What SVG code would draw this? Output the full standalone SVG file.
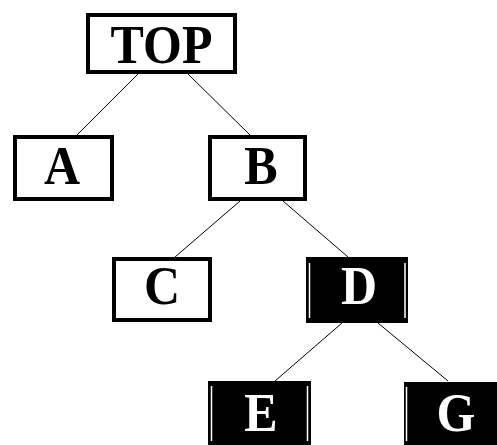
<svg xmlns="http://www.w3.org/2000/svg" width="497" height="445" viewBox="0 0 497 445">
<style>
.box{fill:#fff;stroke:#000;stroke-width:4}
.dark{fill:#000}
.wl{stroke:#fff;stroke-width:1.5}
.t{font-family:"Liberation Serif","Times New Roman",serif;font-weight:bold;font-size:50px;text-anchor:middle}
.tw{fill:#fff}
.edge{stroke:#000;stroke-width:1;fill:none}
</style>
<rect width="497" height="445" fill="#fff"/>
<g id="connectors">
<line class="edge" x1="138" y1="74" x2="77" y2="135"/>
<line class="edge" x1="188" y1="74" x2="250" y2="135"/>
<line class="edge" x1="240" y1="201" x2="175" y2="257"/>
<line class="edge" x1="283" y1="201" x2="348" y2="257"/>
<line class="edge" x1="342" y1="323" x2="275" y2="381"/>
<line class="edge" x1="378" y1="323" x2="448" y2="381"/>
</g>
<g id="TOP">
<rect class="box" x="88" y="15" width="147" height="57"/>
<text class="t" transform="translate(161.5,63) scale(1,1.1)">TOP</text>
</g>
<g id="A">
<rect class="box" x="15" y="137" width="97" height="62"/>
<text class="t" transform="translate(62,184) scale(1,1.1)">A</text>
</g>
<g id="B">
<rect class="box" x="210" y="137" width="95" height="62"/>
<text class="t" transform="translate(261,184) scale(1,1.1)">B</text>
</g>
<g id="C">
<rect class="box" x="114" y="259" width="96" height="61"/>
<text class="t" transform="translate(162,304) scale(1,1.1)">C</text>
</g>
<g id="D">
<rect class="dark" x="306" y="257" width="102" height="66"/>
<line class="wl" x1="309.5" y1="263" x2="309.5" y2="318"/>
<line class="wl" x1="405" y1="263" x2="405" y2="318"/>
<text class="t tw" transform="translate(359,304) scale(1,1.1)">D</text>
</g>
<g id="E">
<rect class="dark" x="208" y="381" width="103" height="70"/>
<line class="wl" x1="211.5" y1="386" x2="211.5" y2="441"/>
<line class="wl" x1="307.5" y1="386" x2="307.5" y2="441"/>
<text class="t tw" transform="translate(261,431) scale(1,1.1)">E</text>
</g>
<g id="G">
<rect class="dark" x="404" y="382" width="101" height="70"/>
<line class="wl" x1="406.5" y1="387" x2="406.5" y2="441"/>
<text class="t tw" transform="translate(456,431) scale(1,1.1)">G</text>
</g>
</svg>
